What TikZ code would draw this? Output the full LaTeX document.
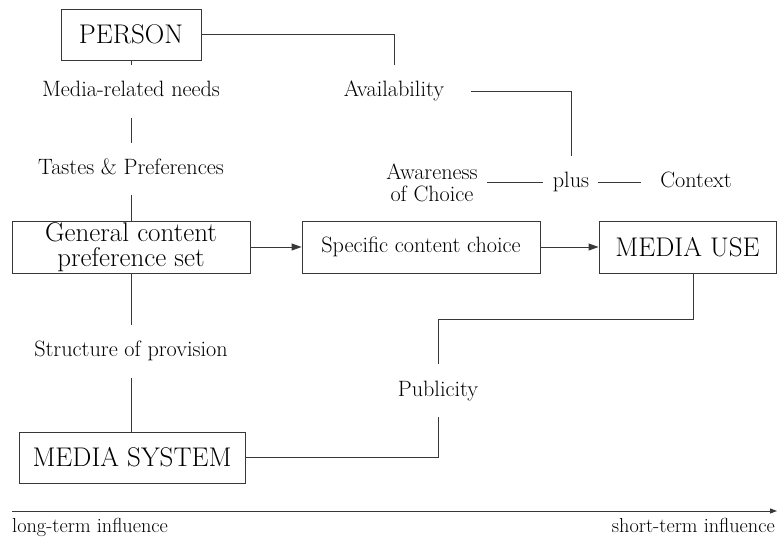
\documentclass[tikz,border=0pt]{standalone}
\usetikzlibrary{arrows.meta}
\newcommand{\lblfont}{\fontsize{22.2}{22.5}\selectfont}
\newcommand{\boxfont}{\fontsize{27}{25.5}\selectfont}
\newcommand{\axisfont}{\fontsize{20.3}{21}\selectfont}
\begin{document}
\begin{tikzpicture}[x=1pt,y=-1pt,
  line/.style={draw=black!78,line width=0.9pt},
  box/.style={line,rectangle,inner sep=0pt,align=center},
  bigbox/.style={box,font=\boxfont},
  lbl/.style={inner sep=0pt,align=center,font=\lblfont,text height=15.5pt,text depth=4.5pt},
  lbl2/.style={inner sep=0pt,align=center,font=\lblfont},
  flow/.style={line,-{Triangle[length=10pt,width=7pt]}},
]
\useasboundingbox (0,0) rectangle (777,540);

% boxes
\node[bigbox,minimum width=140pt,minimum height=51pt] (person) at (131,34.5) {PERSON};
\node[bigbox,minimum width=238pt,minimum height=52pt] (general) at (131,247) {General content\\preference set};
\node[box,font=\lblfont,minimum width=238pt,minimum height=52pt] (specific) at (421,247) {Specific content choice};
\node[bigbox,minimum width=177pt,minimum height=52pt] (mediause) at (687.5,247) {MEDIA USE};
\node[bigbox,minimum width=226pt,minimum height=51pt] (mediasystem) at (132,457.5) {MEDIA SYSTEM};

% labels
\node[lbl] (needs) at (131,91) {Media-related needs};
\node[lbl] (tastes) at (131,169) {Tastes \& Preferences};
\node[lbl] (structure) at (131,351) {Structure of provision};
\node[lbl] (avail) at (394,91) {Availability};
\node[lbl2] (awareness) at (432,183) {Awareness\\of Choice};
\node[lbl] (plus) at (571,182) {plus};
\node[lbl] (context) at (696,182) {Context};
\node[lbl] (publicity) at (438,391) {Publicity};

% left column
\draw[line,shorten >=26pt] (person.south) -- (needs.center);
\draw[line,shorten <=27pt,shorten >=26pt] (needs.center) -- (tastes.center);
\draw[line,shorten <=26pt] (tastes.center) -- (general.north);
\draw[line,shorten >=26pt] (general.south) -- (structure.center);
\draw[line,shorten <=27pt] (structure.center) -- (structure.center |- mediasystem.north);

% availability branch
\draw[line,shorten >=26pt] (person.east) -| (avail.center);
\draw[line,shorten >=26pt] ([xshift=77pt]avail.center) -| (plus.center);
\draw[line,shorten <=55pt,shorten >=28pt] (awareness.center |- plus.center) -- (plus.center);
\draw[line,shorten <=27pt,shorten >=55pt] (plus.center) -- (context.center);

% main flow
\draw[flow] (general.east) -- (specific.west);
\draw[flow] (specific.east) -- (mediause.west);

% publicity branch
\draw[line] ([xshift=5.5pt]mediause.south) -- ++(0,46) -| ([yshift=27pt]publicity.center);
\draw[line] (mediasystem.east) -| ([yshift=-26pt]publicity.center);

% time axis
\coordinate (axL) at (12,511);
\coordinate (axR) at (777,511);
\draw[line,-{Triangle[length=7pt,width=5pt]}] (axL) -- (axR);
\node[inner sep=0pt,anchor=base west,font=\axisfont] (longterm) at (12,532) {long-term influence};
\node[inner sep=0pt,anchor=base east,font=\axisfont] (shortterm) at (775,532) {short-term influence};
\end{tikzpicture}
\end{document}
